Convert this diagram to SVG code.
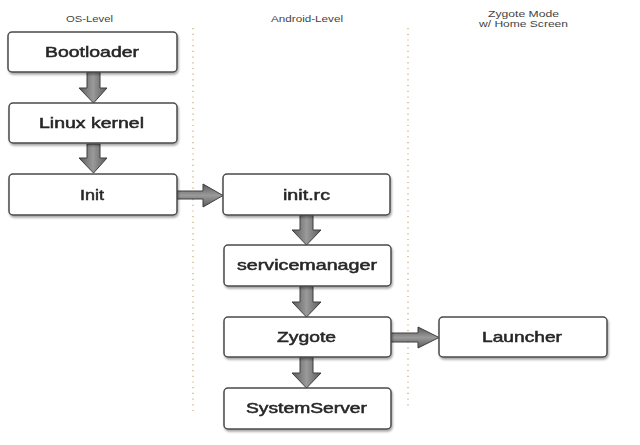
<svg xmlns="http://www.w3.org/2000/svg" width="640" height="445" viewBox="0 0 640 445">
<defs>
<style>
.box{fill:#fff;stroke:#4a4a4a;stroke-width:1.5}
.lbl{font-family:"Liberation Sans",Arial,sans-serif;font-size:14.5px;fill:#262626;stroke:#262626;stroke-width:0.5;text-anchor:middle}
.hdr{font-family:"Liberation Sans",Arial,sans-serif;font-size:8.5px;fill:#444;text-anchor:middle}
.sep{stroke:#d8b888;stroke-width:1.5;stroke-dasharray:1.2 4.5;fill:none}
.av{fill:url(#gv);stroke:#3e3e3e;stroke-width:1}
.ah{fill:url(#gh);stroke:#3e3e3e;stroke-width:1}
</style>
<linearGradient id="gv" x1="0" y1="0" x2="1" y2="0">
<stop offset="0" stop-color="#5a5a5a"/><stop offset="0.5" stop-color="#9a9a9a"/><stop offset="1" stop-color="#5a5a5a"/>
</linearGradient>
<linearGradient id="gh" x1="0" y1="0" x2="0" y2="1">
<stop offset="0" stop-color="#5a5a5a"/><stop offset="0.5" stop-color="#9a9a9a"/><stop offset="1" stop-color="#5a5a5a"/>
</linearGradient>
<filter id="sh" x="-10%" y="-20%" width="120%" height="150%">
<feDropShadow dx="1" dy="2" stdDeviation="1.2" flood-color="#000" flood-opacity="0.35"/>
</filter>
</defs>
<rect width="640" height="445" fill="#fff"/>
<g id="headers">
<text class="hdr" x="89.5" y="22" textLength="47" lengthAdjust="spacingAndGlyphs">OS-Level</text>
<text class="hdr" x="307" y="22" textLength="72" lengthAdjust="spacingAndGlyphs">Android-Level</text>
<text class="hdr" x="523.5" y="17" textLength="71" lengthAdjust="spacingAndGlyphs">Zygote Mode</text>
<text class="hdr" x="523.5" y="26.5" textLength="89" lengthAdjust="spacingAndGlyphs">w/ Home Screen</text>
</g>
<g id="separators">
<line class="sep" x1="193" y1="28" x2="193" y2="412"/>
<line class="sep" x1="408" y1="28" x2="408" y2="408"/>
</g>
<g id="connectors">
<path class="av" d="M87,72 H100 V88 H107 L93.5,103 L79,88 H87 Z"/>
<path class="av" d="M87,144 H100 V158 H107 L93.5,173 L79,158 H87 Z"/>
<path class="ah" d="M177,191 H203 V184 L223,195.5 L203,207 V199 H177 Z"/>
<path class="av" d="M300,215 H313 V230 H321 L306.5,245 L292,230 H300 Z"/>
<path class="av" d="M300,286 H313 V302 H321 L306.5,317 L292,302 H300 Z"/>
<path class="av" d="M300,357 H313 V373 H321 L306.5,388 L292,373 H300 Z"/>
<path class="ah" d="M390,333 H418 V327 L439,337.5 L418,348 V342 H390 Z"/>
</g>
<g id="bootloader" filter="url(#sh)"><rect class="box" x="8" y="32" width="169" height="40" rx="4"/><text class="lbl" x="92" y="57" textLength="94" lengthAdjust="spacingAndGlyphs">Bootloader</text></g>
<g id="linux-kernel" filter="url(#sh)"><rect class="box" x="9" y="103" width="168" height="40" rx="4"/><text class="lbl" x="91.5" y="128" textLength="105" lengthAdjust="spacingAndGlyphs">Linux kernel</text></g>
<g id="init" filter="url(#sh)"><rect class="box" x="9" y="174" width="168" height="41" rx="4"/><text class="lbl" x="92" y="199.5" textLength="24" lengthAdjust="spacingAndGlyphs">Init</text></g>
<g id="init-rc" filter="url(#sh)"><rect class="box" x="223" y="174" width="167" height="41" rx="4"/><text class="lbl" x="306.5" y="199.5" textLength="47" lengthAdjust="spacingAndGlyphs">init.rc</text></g>
<g id="servicemanager" filter="url(#sh)"><rect class="box" x="224" y="245" width="167" height="41" rx="4"/><text class="lbl" x="307" y="270" textLength="140" lengthAdjust="spacingAndGlyphs">servicemanager</text></g>
<g id="zygote" filter="url(#sh)"><rect class="box" x="224" y="317" width="167" height="40" rx="4"/><text class="lbl" x="306.5" y="341.5" textLength="59" lengthAdjust="spacingAndGlyphs">Zygote</text></g>
<g id="systemserver" filter="url(#sh)"><rect class="box" x="224" y="388" width="167" height="41" rx="4"/><text class="lbl" x="306.5" y="413" textLength="121" lengthAdjust="spacingAndGlyphs">SystemServer</text></g>
<g id="launcher" filter="url(#sh)"><rect class="box" x="439" y="317" width="168" height="40" rx="4"/><text class="lbl" x="522" y="342" textLength="80" lengthAdjust="spacingAndGlyphs">Launcher</text></g>
</svg>
